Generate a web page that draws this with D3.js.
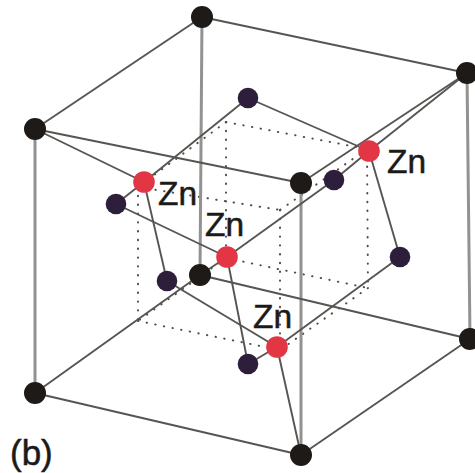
<!DOCTYPE html>
<html>
<head>
<meta charset="utf-8">
<script src="https://cdn.jsdelivr.net/npm/d3@7"></script>
<style>
  html, body { margin: 0; padding: 0; background: #fff; }
  svg { display: block; }
</style>
</head>
<body>
<svg></svg>
<script>
// atoms: [name, x, y]
const cornerAtoms = [
  ['A', 202, 17], ['B', 35, 129], ['C', 467, 73], ['D', 301, 183],
  ['E', 200, 275], ['F', 35, 393], ['G', 470, 339], ['H', 301, 455]
];
const innerAtoms = [
  ['P1', 248, 98], ['P2', 116, 204], ['P3', 334, 180],
  ['P4', 167, 281], ['P5', 400, 257], ['P6', 248, 364]
];
const znAtoms = [
  ['R1', 144, 182], ['R2', 369, 151], ['R3', 227, 257], ['R4', 277, 347]
];
// corners of the dotted inner cube
const innerCube = [
  ['T1', 226, 122], ['T2', 367, 149], ['T3', 138, 187], ['T4', 280, 210],
  ['B1', 226, 258], ['B2', 368, 288], ['B3', 138, 321], ['B4', 280, 350]
];

const verticalEdges = [['A', 'E'], ['B', 'F'], ['C', 'G'], ['D', 'H']];
const cubeEdges = [
  ['A', 'B'], ['A', 'C'], ['B', 'D'], ['C', 'D'],
  ['F', 'E'], ['E', 'G'], ['F', 'H'], ['G', 'H']
];
const bonds = [
  ['R1', 'B'], ['R1', 'P1'], ['R1', 'P2'], ['R1', 'P4'],
  ['R2', 'C'], ['R2', 'P1'], ['R2', 'P3'], ['R2', 'P5'],
  ['R3', 'E'], ['R3', 'P2'], ['R3', 'P3'], ['R3', 'P6'],
  ['R4', 'H'], ['R4', 'P4'], ['R4', 'P5'], ['R4', 'P6']
];
const dottedEdges = [
  ['T1', 'T2'], ['T1', 'T3'], ['T2', 'T4'], ['T3', 'T4'],
  ['B1', 'B2'], ['B1', 'B3'], ['B2', 'B4'], ['B3', 'B4'],
  ['T1', 'B1'], ['T2', 'B2'], ['T3', 'B3'], ['T4', 'B4']
];
const znLabels = [['Zn', 158, 205], ['Zn', 387, 173], ['Zn', 205, 236], ['Zn', 253, 328]];
const panelLabel = [['(b)', 10, 465]];

const width = 475;
const height = 473;

const svg = d3.select('svg')
  .attr('width', width)
  .attr('height', height)
  .attr('viewBox', `0 0 ${width} ${height}`);

const x = d3.scaleLinear().domain([0, 475]).range([0, width]);
const y = d3.scaleLinear().domain([0, 473]).range([0, height]);

const lookup = new Map(
  [...cornerAtoms, ...innerAtoms, ...znAtoms, ...innerCube].map(d => [d[0], d])
);

function drawEdges(edges, color, strokeWidth, dash) {
  svg.append('g')
    .selectAll('line')
    .data(edges)
    .join('line')
    .attr('x1', d => x(lookup.get(d[0])[1]))
    .attr('y1', d => y(lookup.get(d[0])[2]))
    .attr('x2', d => x(lookup.get(d[1])[1]))
    .attr('y2', d => y(lookup.get(d[1])[2]))
    .attr('stroke', color)
    .attr('stroke-width', strokeWidth)
    .attr('stroke-dasharray', dash)
    .attr('stroke-linecap', dash ? 'round' : 'butt');
}

function drawAtoms(atoms, color, r) {
  svg.append('g')
    .selectAll('circle')
    .data(atoms)
    .join('circle')
    .attr('cx', d => x(d[1]))
    .attr('cy', d => y(d[2]))
    .attr('r', r)
    .attr('fill', color);
}

function drawText(labels, size) {
  svg.append('g')
    .selectAll('text')
    .data(labels)
    .join('text')
    .attr('x', d => x(d[1]))
    .attr('y', d => y(d[2]))
    .attr('font-family', '"Liberation Sans", Arial, sans-serif')
    .attr('font-size', size)
    .attr('fill', '#1c1a18')
    .attr('stroke', '#1c1a18')
    .attr('stroke-width', 0.5)
    .text(d => d[0]);
}

drawEdges(dottedEdges, '#4f4c49', 2, '0.4 8.4');
drawEdges(verticalEdges, '#949290', 3);
drawEdges(cubeEdges, '#575552', 1.9);
drawEdges(bonds, '#575552', 1.9);

drawAtoms(cornerAtoms, '#1d1a17', 11);
drawAtoms(innerAtoms, '#2d1f3b', 10.3);
drawAtoms(znAtoms, '#e23645', 10.8);

drawText(znLabels, 33.5);
drawText(panelLabel, 35);
</script>
</body>
</html>
